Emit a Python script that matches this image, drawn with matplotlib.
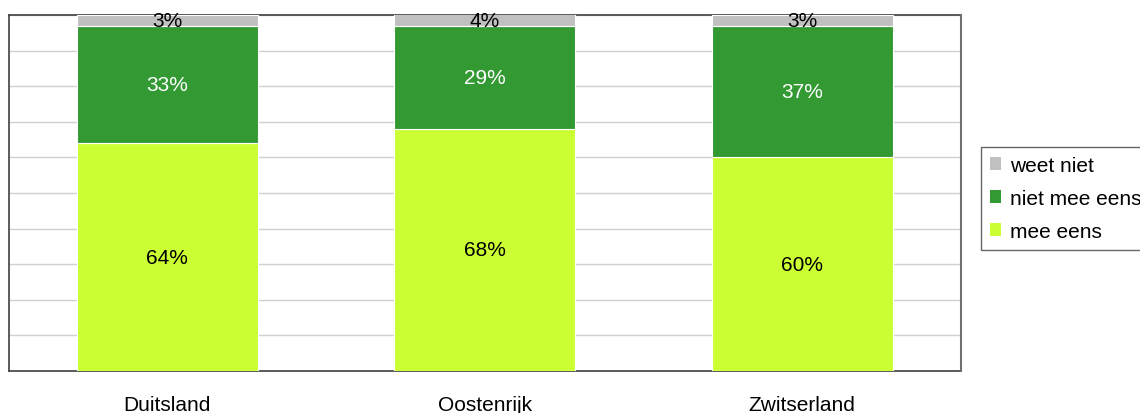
import matplotlib
matplotlib.use("Agg")
import matplotlib.pyplot as plt
from matplotlib.patches import Patch
import numpy as np

plt.rcParams['font.family'] = ['Liberation Sans', 'DejaVu Sans']

countries = ["Duitsland", "Oostenrijk", "Zwitserland"]
mee_eens = [64, 68, 60]
niet_mee_eens = [33, 29, 37]
weet_niet = [3, 4, 3]

series = [
    ("mee eens", mee_eens, "#CCFF33", "black"),
    ("niet mee eens", niet_mee_eens, "#339933", "white"),
    ("weet niet", weet_niet, "#C0C0C0", "black"),
]

fig = plt.figure(figsize=(11.4, 4.14), dpi=100)
ax = fig.add_axes([8.5 / 1140, 42 / 414, (961 - 8.5) / 1140, 356 / 414])

x = np.arange(len(countries))
bottom = np.zeros(len(countries))
for name, vals, color, tcolor in series:
    vals = np.array(vals, dtype=float)
    ax.bar(x, vals, bottom=bottom, width=0.57, color=color,
           edgecolor="white", linewidth=0.8, zorder=3, label=name)
    for xi, b, v in zip(x, bottom, vals):
        top = min(b + v, 100)
        ax.text(xi, (b + top) / 2, f"{int(v)}%", ha="center", va="center",
                fontsize=15, color=tcolor, zorder=5)
    bottom += vals

ax.set_xlim(-0.5, len(countries) - 0.5)
ax.set_ylim(0, 100)
ax.set_yticks(np.arange(0, 101, 10))
ax.set_yticklabels([])
ax.tick_params(axis="y", length=0)
ax.tick_params(axis="x", length=0, pad=24, labelsize=15)
ax.set_xticks(x)
ax.set_xticklabels(countries, va="center")
ax.grid(axis="y", color="#D0D0D0", linewidth=1, zorder=0)
ax.set_axisbelow(True)

for side in ["left", "bottom", "top"]:
    ax.spines[side].set_color("#404040")
    ax.spines[side].set_linewidth(1.2)
    ax.spines[side].set_zorder(2)
ax.spines["right"].set_color("#707070")
ax.spines["right"].set_linewidth(1.5)

handles = [Patch(facecolor=c, edgecolor="none", label=n) for n, _, c, _ in reversed(series)]
leg = fig.legend(handles=handles, loc="upper left",
                 bbox_to_anchor=(981 / 1140, 1 - 148 / 414),
                 frameon=True, fancybox=False, fontsize=15,
                 handlelength=0.55, handleheight=0.55, handletextpad=0.4,
                 labelspacing=0.68, borderpad=0.42, borderaxespad=0)
leg.get_frame().set_edgecolor("#404040")
leg.get_frame().set_linewidth(1.0)

fig.savefig("out.png", dpi=100)
